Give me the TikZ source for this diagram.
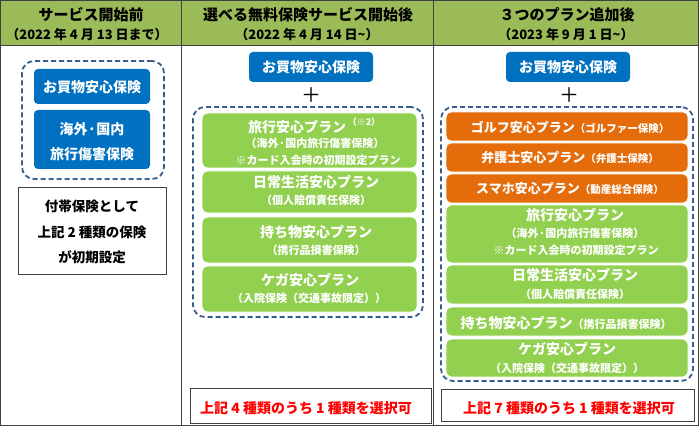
\documentclass[tikz,border=0pt]{standalone}
\usepackage{fontspec}
\setmainfont{Noto Sans CJK JP}
\definecolor{hdrC}{HTML}{9BBB59}
\definecolor{blueC}{HTML}{0070C0}
\definecolor{greenC}{HTML}{92D050}
\definecolor{orangeC}{HTML}{E46C0A}
\definecolor{dashC}{HTML}{385D8A}
\definecolor{lineC}{HTML}{404040}
\definecolor{redC}{HTML}{FF0000}
\newcommand\fs[1]{\fontsize{#1}{#1}\selectfont}
\tikzset{
  hdr/.style={font=\bfseries\fs{15}, inner sep=0pt},
  hsub/.style={font=\bfseries\fs{13}, inner sep=0pt},
  bluebox/.style={fill=blueC, rounded corners=4pt, inner sep=0pt},
  gbox/.style={fill=greenC, draw=white, line width=0.8pt, rounded corners=6pt, inner sep=0pt},
  obox/.style={fill=orangeC, draw=white, line width=0.8pt, rounded corners=5pt, inner sep=0pt},
  dbox/.style={draw=dashC, dash pattern=on 5pt off 3pt, line width=1.8pt, rounded corners=12pt, inner sep=0pt},
  wbox/.style={draw=lineC, line width=0.8pt, fill=white, inner sep=0pt},
  bt/.style={text=white, font=\bfseries\fs{14}, inner sep=0pt},
  gt/.style={text=white, font=\bfseries\fs{14}, inner sep=0pt},
  gs/.style={text=white, font=\bfseries\fs{11}, inner sep=0pt},
  kt/.style={font=\bfseries\fs{13.5}, inner sep=0pt},
  rt/.style={text=redC, font=\bfseries\fs{14}, inner sep=0pt},
  plus/.style={font=\fs{20}, inner sep=0pt},
}
\begin{document}
\begin{tikzpicture}[x=1pt,y=-1pt]
\useasboundingbox (0,0) rectangle (700,427);
% table
\fill[hdrC] (0,0) rectangle (699,45);
\draw[lineC, line width=0.8pt] (0.5,0.5) rectangle (698.5,425);
\draw[lineC, line width=0.8pt] (0.5,45) -- (698.5,45);
\draw[lineC, line width=0.8pt] (181,0.5) -- (181,425);
\draw[lineC, line width=0.8pt] (433,0.5) -- (433,425);
% headers
\node[hdr] (h1) at (91,15) {サービス開始前};
\node[hsub] (h1s) at (87,35) {（2022 年 4 月 13 日まで）};
\node[hdr] (h2) at (308,15) {選べる無料保険サービス開始後};
\node[hsub] (h2s) at (307,35) {（2022 年 4 月 14 日\textasciitilde）};
\node[hdr] (h3) at (567,15) {３つのプラン追加後};
\node[hsub] (h3s) at (566,35) {（2023 年 9 月 1 日\textasciitilde）};
% column 1
\node[dbox, minimum width=142pt, minimum height=118pt] (d1) at (93,120) {};
\node[bluebox, minimum width=116pt, minimum height=35pt] (b1) at (92,86.5) {};
\node[bt] (b1t) at (92,87) {お買物安心保険};
\node[bluebox, minimum width=116pt, minimum height=59pt] (b2) at (92,139.5) {};
\node[bt] (b2t1) at (92,129) {海外·国内};
\node[bt] (b2t2) at (92,154) {旅行傷害保険};
\node[wbox, minimum width=148pt, minimum height=87pt] (w1) at (92,230.5) {};
\node[kt] (w1a) at (92,206) {付帯保険として};
\node[kt] (w1b) at (92,232) {上記 2 種類の保険};
\node[kt] (w1c) at (92,257) {が初期設定};
% column 2
\node[bluebox, minimum width=124pt, minimum height=30pt] (b3) at (311,67) {};
\node[bt] (b3t) at (311,67) {お買物安心保険};
\node[plus] (p2) at (311,95) {＋};
\node[dbox, minimum width=230pt, minimum height=210pt] (d2) at (308,212) {};
\node[gbox, minimum width=215pt, minimum height=55pt] (g1) at (309.5,140.5) {};
\node[gt] (g1t) at (297,127) {旅行安心プラン};
\node[gs, font=\bfseries\fs{9}] (g1n) at (364,122) {（※2）};
\node[gs] (g1s1) at (315,143.5) {（海外·国内旅行傷害保険）};
\node[gs] (g1s2) at (318,160) {※カード入会時の初期設定プラン};
\node[gbox, minimum width=215pt, minimum height=42pt] (g2) at (309.5,192) {};
\node[gt] (g2t) at (316,182) {日常生活安心プラン};
\node[gs] (g2s) at (316,200) {（個人賠償責任保険）};
\node[gbox, minimum width=215pt, minimum height=46pt] (g3) at (309.5,240) {};
\node[gt] (g3t) at (316,232) {持ち物安心プラン};
\node[gs] (g3s) at (316,250) {（携行品損害保険）};
\node[gbox, minimum width=215pt, minimum height=46pt] (g4) at (309.5,289) {};
\node[gt] (g4t) at (310,280) {ケガ安心プラン};
\node[gs] (g4s) at (309,298) {（入院保険（交通事故限定））};
\node[wbox, minimum width=241pt, minimum height=35pt] (r2) at (310.5,405.5) {};
\node[rt] (r2t) at (306,408) {上記 4 種類のうち 1 種類を選択可};
% column 3
\node[bluebox, minimum width=124pt, minimum height=30pt] (b4) at (568,67) {};
\node[bt] (b4t) at (568,67) {お買物安心保険};
\node[plus] (p3) at (569,95) {＋};
\node[dbox, minimum width=252pt, minimum height=274pt] (d3) at (567,244) {};
\node[obox, minimum width=242pt, minimum height=29pt] (o1) at (567,126.5) {};
\node[gt, font=\bfseries\fs{13}] (o1t) at (570,127) {ゴルフ安心プラン\fs{10.5}（ゴルファー保険）};
\node[obox, minimum width=242pt, minimum height=29pt] (o2) at (567,157.5) {};
\node[gt, font=\bfseries\fs{13}] (o2t) at (570,158) {弁護士安心プラン\fs{10.5}（弁護士保険）};
\node[obox, minimum width=242pt, minimum height=29pt] (o3) at (567,188.5) {};
\node[gt, font=\bfseries\fs{13}] (o3t) at (570,188) {スマホ安心プラン\fs{10.5}（動産総合保険）};
\node[gbox, minimum width=242pt, minimum height=58pt] (g5) at (567,234) {};
\node[gt] (g5t) at (575,215) {旅行安心プラン};
\node[gs] (g5s1) at (575,233) {（海外·国内旅行傷害保険）};
\node[gs] (g5s2) at (576,250) {※カード入会時の初期設定プラン};
\node[gbox, minimum width=242pt, minimum height=39pt] (g6) at (567,284.5) {};
\node[gt] (g6t) at (575,275) {日常生活安心プラン};
\node[gs] (g6s) at (575,294) {（個人賠償責任保険）};
\node[gbox, minimum width=242pt, minimum height=29pt] (g7) at (567,321.5) {};
\node[gt] (g7t) at (566,323) {持ち物安心プラン\fs{11}（携行品損害保険）};
\node[gbox, minimum width=242pt, minimum height=38pt] (g8) at (567,358) {};
\node[gt] (g8t) at (567,349) {ケガ安心プラン};
\node[gs] (g8s) at (567,368) {（入院保険（交通事故限定））};
\node[wbox, minimum width=253pt, minimum height=32pt] (r3) at (567.5,405) {};
\node[rt] (r3t) at (569,408) {上記 7 種類のうち 1 種類を選択可};
\end{tikzpicture}
\end{document}
